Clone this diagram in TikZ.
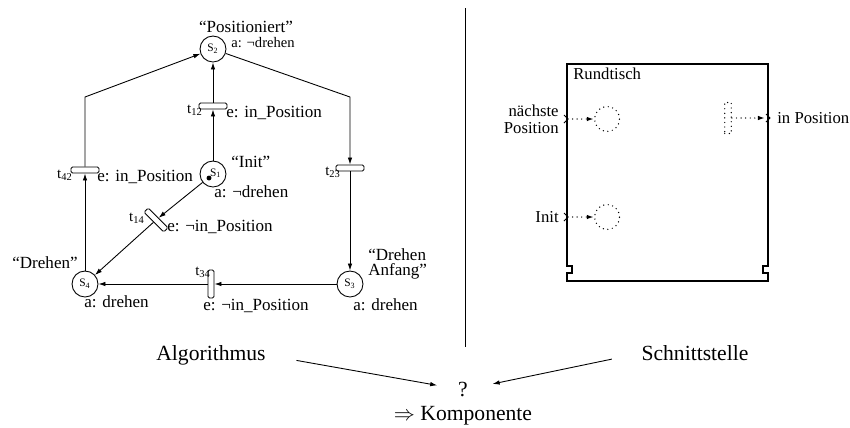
\documentclass[tikz,border=0pt]{standalone}
\usepackage{fontspec}
\setmainfont{Liberation Serif}
\usetikzlibrary{arrows.meta,positioning}
\tikzset{
  >={Latex[length=4pt,width=2.6pt]},
  place/.style={circle, draw, line width=0.5pt, minimum size=0.52cm,
              inner sep=0pt, font=\fontsize{6.5}{7}\selectfont},
  bar/.style={draw, rounded corners=0.8pt, line width=0.5pt,
              minimum width=0.56cm, minimum height=0.12cm, inner sep=0pt},
  lbl/.style={font=\fontsize{9.7}{8.5}\selectfont, inner sep=0pt},
  slbl/.style={font=\fontsize{8.3}{9}\selectfont, inner sep=0pt},
  tlbl/.style={font=\fontsize{8.5}{9}\selectfont, inner sep=0pt},
  big/.style={font=\fontsize{12.3}{14}\selectfont, inner sep=0pt},
  rlbl/.style={font=\fontsize{9.5}{9.7}\selectfont, inner sep=0pt},
  arc/.style={->, line width=0.5pt},
  sparse/.style={line width=0.8pt, line cap=round, dash pattern=on 0pt off 2.6pt},
  dplace/.style={circle, draw, sparse, minimum size=0.5cm, inner sep=0pt},
  dbar/.style={draw, sparse, minimum width=0.13cm,
              minimum height=0.62cm, inner sep=0pt},
  darc/.style={->, sparse},
}

\begin{document}
\begin{tikzpicture}[x=0.02cm, y=-0.02cm]
  \useasboundingbox (0,0) rectangle (850,427);
  % places and transitions of the net
  \node[place] (s2) at (213,49) {S\textsubscript{2}};
  \node[place] (s1) at (213,174) {\raisebox{2pt}{\hspace*{3pt}S\textsubscript{1}}};
  \node[place] (s4) at (85,284) {S\textsubscript{4}};
  \node[place] (s3) at (350,284) {S\textsubscript{3}};
  \fill ([shift={(-4,4)}]s1.center) circle[radius=1.4pt];
  \node[bar] (t12) at (213,106) {};
  \node[bar] (t42) at (85,170) {};
  \node[bar] (t23) at (350,168) {};
  \node[bar, rotate=-45] (t14) at (156,220) {};
  \node[bar, rotate=90] (t34) at (211,284) {};
  \coordinate (cL) at (85,97);
  \coordinate (cR) at (350,97);
  % arcs
  \draw[arc] (s1) -- (t12);
  \draw[arc] (t12) -- (s2);
  \draw[arc] (s2) -- (cR) -- (t23);
  \draw[arc] (t23) -- (s3);
  \draw[arc] (s3) -- (t34);
  \draw[arc] (t34) -- (s4);
  \draw[arc] (s4) -- (t42);
  \draw[arc] (t42) -- (cL) -- (s2);
  \draw[arc] (s1) -- (t14);
  \draw[arc] (t14) -- (s4);
  % inscriptions
  \node[lbl] at (246,27) {“Positioniert”};
  \node[slbl, anchor=west] at (231,43) {a: ¬drehen};
  \node[lbl, anchor=west] at (231,162) {“Init”};
  \node[lbl, anchor=west] at (214,192) {a: ¬drehen};
  \node[lbl, anchor=east] at (78,263) {“Drehen”};
  \node[lbl, anchor=west] at (84,302) {a: drehen};
  \node[lbl, anchor=west, align=left] at (368,264) {“Drehen\\Anfang”};
  \node[lbl, anchor=west] at (353,305) {a: drehen};
  \node[tlbl, anchor=east] at (203,110) {t\textsubscript{12}};
  \node[lbl, anchor=west] at (226,113) {e: in\_Position};
  \node[tlbl, anchor=east] at (73,175) {t\textsubscript{42}};
  \node[lbl, anchor=west] at (97,177) {e: in\_Position};
  \node[tlbl, anchor=east] at (145,218) {t\textsubscript{14}};
  \node[lbl, anchor=west] at (167,227) {e: ¬in\_Position};
  \node[tlbl] at (203,272) {t\textsubscript{34}};
  \node[lbl, anchor=west] at (203,306) {e: ¬in\_Position};
  \node[tlbl] at (333,172) {t\textsubscript{23}};
  % divider
  \draw[line width=0.5pt] (465,8) -- (465,347);
  % Rundtisch
  \draw[line width=0.6pt] (567,64) -- (768,64) -- (768,266) -- (763,266) -- (763,273)
        -- (768,273) -- (768,281) -- (567,281) -- (567,273) -- (572,273)
        -- (572,266) -- (567,266) -- cycle;
  \node[rlbl, anchor=west] at (573,74) {Rundtisch};
  \node[dplace] (pNext) at (607,119) {};
  \node[dplace] (pInit) at (607,217) {};
  \node[dbar] (tOut) at (728,118) {};
  \coordinate (inNext) at (568,119);
  \coordinate (inInit) at (568,217);
  \coordinate (outPos) at (765,118);
  \foreach \p in {inNext,inInit}{
    \draw[line width=0.5pt] ([shift={(-4,-4)}]\p) -- (\p) -- ([shift={(-4,4)}]\p);}
  \draw[line width=0.5pt] ([shift={(1,-4)}]outPos) -- ([shift={(5,0)}]outPos) -- ([shift={(1,4)}]outPos);
  \draw[darc] (inNext) -- (pNext);
  \draw[darc] (inInit) -- (pInit);
  \draw[darc] (tOut) -- (outPos);
  \node[rlbl, anchor=east, align=right] at (559,119) {nächste\\Position};
  \node[rlbl, anchor=east] at (559,217) {Init};
  \node[rlbl, anchor=west] at (777,118) {in Position};
  % bottom
  \node[big] (algo) at (211,355) {Algorithmus};
  \node[big] (schn) at (695,353) {Schnittstelle};
  \node[big] (q) at (463,389) {?};
  \node[big] (komp) at (463,416) {$\Rightarrow$ Komponente};
  \draw[arc, shorten <=0.62cm, shorten >=0.42cm] (algo.east) -- (q.west);
  \draw[arc, shorten <=0.6cm, shorten >=0.5cm] (schn.west) -- (q.east);
\end{tikzpicture}
\end{document}
